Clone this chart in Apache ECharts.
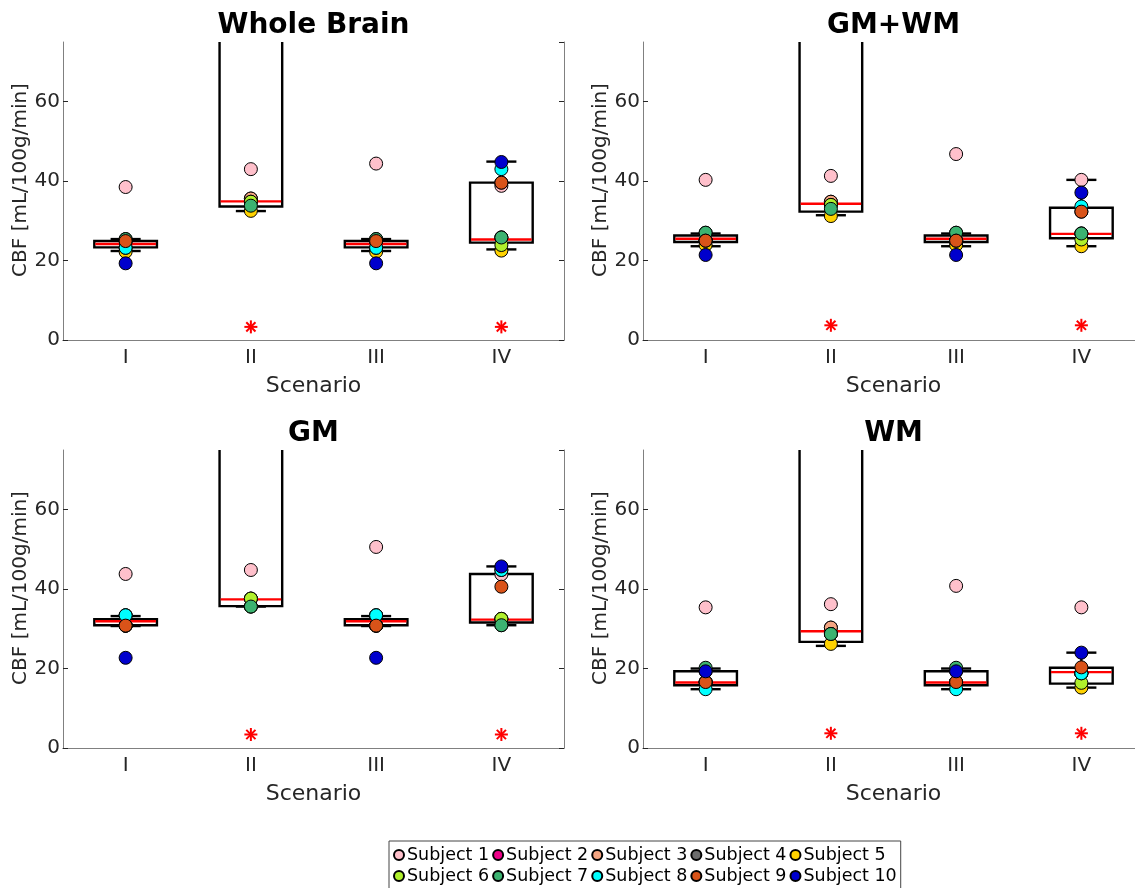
<!DOCTYPE html>
<html>
<head>
<meta charset="utf-8">
<script src="https://cdn.jsdelivr.net/npm/echarts@6/dist/echarts.min.js"></script>
<style>
  html, body { margin: 0; padding: 0; background: #fff; }
  #main { width: 1135px; height: 888px; }
</style>
</head>
<body>
<div id="main"></div>
<script>
var scenarios = ['I', 'II', 'III', 'IV'];
var panelTitles = ['Whole Brain', 'GM+WM', 'GM', 'WM'];
var subjectNames = ['Subject 1', 'Subject 2', 'Subject 3', 'Subject 4', 'Subject 5',
    'Subject 6', 'Subject 7', 'Subject 8', 'Subject 9', 'Subject 10'];
var subjectColors = ['#ffc0cb', '#ee0088', '#f4a582', '#6b6b6b', '#ffd200',
    '#b0f02c', '#3cb371', '#00ffff', '#d95319', '#0000cd'];

// CBF per scenario (rows I..IV), one value per subject (1..10); null = no point
var cbfWholeBrain = [
    [38.5, 24.9, 24.9, 25.4, 22.2, 23.2, 25.4, 23.2, 24.9, 19.3],
    [43.0, 35.6, 35.6, 34.8, 32.5, 34.8, 33.8, null, null, null],
    [44.4, 24.9, 24.9, 25.4, 22.2, 23.2, 25.4, 23.2, 24.9, 19.3],
    [38.8, 39.6, 25.8, 25.8, 22.5, 23.9, 25.8, 43.0, 39.6, 44.8]
];
var cbfGmWm = [
    [40.3, 25.0, 25.0, 27.0, 23.9, 25.0, 27.0, 25.0, 25.0, 21.4],
    [41.3, 34.8, 34.8, 34.0, 31.2, 34.0, 33.0, null, null, null],
    [46.8, 25.0, 25.0, 27.0, 23.9, 25.0, 27.0, 25.0, 25.0, 21.4],
    [40.3, 32.3, 26.8, 26.8, 23.6, 25.3, 26.8, 33.6, 32.3, 37.1]
];
var cbfGm = [
    [43.8, 30.8, 30.8, 33.4, 30.8, 33.4, 30.8, 33.4, 30.8, 22.7],
    [44.8, 37.6, 37.6, 35.6, 35.6, 37.6, 35.6, null, null, null],
    [50.6, 30.8, 30.8, 33.4, 30.8, 33.4, 30.8, 33.4, 30.8, 22.7],
    [43.7, 44.8, 32.5, 30.9, 32.5, 32.5, 30.9, 44.8, 40.6, 45.7]
];
var cbfWm = [
    [35.4, 16.6, 16.6, 19.3, 16.6, 16.6, 20.2, 14.8, 16.6, 19.3],
    [36.2, 30.3, 30.3, 28.7, 26.2, 28.7, 28.7, null, null, null],
    [40.8, 16.6, 16.6, 19.3, 16.6, 16.6, 20.2, 14.8, 16.6, 19.3],
    [35.4, 18.8, 18.8, 18.8, 15.2, 16.4, 18.8, 18.8, 20.3, 24.0]
];

// box statistics per scenario: [lower whisker, q1, median, q3, upper whisker]
var boxWholeBrain = [[22.4, 23.3, 24.15, 24.9, 25.4], [32.45, 33.6, 34.9, 110, 140],
    [22.4, 23.3, 24.15, 24.9, 25.4], [22.8, 24.5, 25.3, 39.6, 44.9]];
var boxGmWm = [[23.6, 24.65, 25.5, 26.3, 26.8], [31.4, 32.3, 34.3, 110, 140],
    [23.6, 24.65, 25.5, 26.3, 26.8], [23.6, 25.6, 26.7, 33.3, 40.3]];
var boxGm = [[30.7, 30.9, 31.9, 32.4, 33.2], [35.6, 35.7, 37.4, 110, 140],
    [30.7, 30.9, 31.9, 32.4, 33.2], [30.9, 31.6, 32.3, 43.8, 45.7]];
var boxWm = [[14.8, 15.8, 16.5, 19.3, 20.0], [25.7, 26.7, 29.4, 110, 140],
    [14.8, 15.8, 16.5, 19.3, 20.0], [15.2, 16.2, 19.1, 20.2, 24.0]];

// outliers: [scenario index, value]
var outWholeBrain = [[1, 3.3], [3, 3.3]];
var outGmWm = [[1, 3.7], [3, 3.7]];
var outGm = [[1, 3.4], [3, 3.4]];
var outWm = [[1, 3.7], [3, 3.7]];

var yTicks = [0, 20, 40, 60];

var panelCbf = [cbfWholeBrain, cbfGmWm, cbfGm, cbfWm];
var panelBox = [boxWholeBrain, boxGmWm, boxGm, boxWm];
var panelOut = [outWholeBrain, outGmWm, outGm, outWm];

var gridLeft = [63, 643, 63, 643];
var gridTop = [42, 42, 450, 450];
var txt = '#262626';
var axisGray = '#808080';

function renderBox(params, api) {
    var x = api.value(0);
    var lo = api.coord([x, api.value(1)]);
    var q1 = api.coord([x, api.value(2)]);
    var md = api.coord([x, api.value(3)]);
    var q3 = api.coord([x, api.value(4)]);
    var hi = api.coord([x, api.value(5)]);
    var band = api.size([1, 0])[0];
    var bw = band * 0.5, cw = band * 0.24;
    var cx = lo[0];
    var black = {stroke: '#000', lineWidth: 2.4, fill: null};
    return {
        type: 'group',
        children: [
            {type: 'line', shape: {x1: cx, y1: q3[1], x2: cx, y2: hi[1]}, style: black},
            {type: 'line', shape: {x1: cx, y1: lo[1], x2: cx, y2: q1[1]}, style: black},
            {type: 'line', shape: {x1: cx - cw / 2, y1: hi[1], x2: cx + cw / 2, y2: hi[1]}, style: black},
            {type: 'line', shape: {x1: cx - cw / 2, y1: lo[1], x2: cx + cw / 2, y2: lo[1]}, style: black},
            {type: 'rect', shape: {x: cx - bw / 2, y: q3[1], width: bw, height: q1[1] - q3[1]},
                style: {stroke: '#000', lineWidth: 2.4, fill: 'none'}},
            {type: 'line', shape: {x1: cx - bw / 2 + 1, y1: md[1], x2: cx + bw / 2 - 1, y2: md[1]},
                style: {stroke: '#ff0000', lineWidth: 2.4}}
        ]
    };
}

// red asterisk outlier marker, drawn at the data point
function renderStar(params, api) {
    var c = api.coord([api.value(0), api.value(1)]);
    var r = 6.5, d = r * 0.707;
    var st = {stroke: '#ff0000', lineWidth: 2, fill: null};
    return {
        type: 'group',
        children: [
            {type: 'line', shape: {x1: c[0], y1: c[1] - r, x2: c[0], y2: c[1] + r}, style: st},
            {type: 'line', shape: {x1: c[0] - r, y1: c[1], x2: c[0] + r, y2: c[1]}, style: st},
            {type: 'line', shape: {x1: c[0] - d, y1: c[1] - d, x2: c[0] + d, y2: c[1] + d}, style: st},
            {type: 'line', shape: {x1: c[0] - d, y1: c[1] + d, x2: c[0] + d, y2: c[1] - d}, style: st}
        ]
    };
}

var grids = [], xAxes = [], yAxes = [], titles = [], series = [];
for (var p = 0; p < 4; p++) {
    grids.push({left: gridLeft[p], top: gridTop[p], width: 501, height: 298,
        outerBoundsMode: 'none', containLabel: false});
    titles.push({
        text: panelTitles[p],
        left: gridLeft[p] + 250.5,
        top: gridTop[p] - 30,
        textAlign: 'center',
        padding: 0,
        textStyle: {fontSize: 28, fontWeight: 'bold', color: '#000', fontFamily: 'DejaVu Sans'}
    });
    xAxes.push({
        type: 'category', gridIndex: p, data: scenarios, position: 'bottom',
        name: 'Scenario', nameLocation: 'middle', nameGap: 35,
        nameTextStyle: {fontSize: 22, color: txt},
        axisLine: {lineStyle: {color: axisGray, width: 1}},
        axisTick: {alignWithLabel: true, inside: true, length: 5, lineStyle: {color: txt}},
        axisLabel: {fontSize: 20, color: txt, margin: 8},
        splitLine: {show: false}
    });
    xAxes.push({
        type: 'category', gridIndex: p, data: scenarios, position: 'top',
        axisLine: {lineStyle: {color: axisGray, width: 1}},
        axisTick: {alignWithLabel: true, inside: true, length: 5, lineStyle: {color: txt}},
        axisLabel: {show: false},
        splitLine: {show: false}
    });
    yAxes.push({
        type: 'value', gridIndex: p, min: 0, max: 75, interval: 20, position: 'left',
        name: 'CBF [mL/100g/min]', nameLocation: 'middle', nameGap: 24,
        nameTextStyle: {fontSize: 20, color: txt, padding: [0, 0, 0, 22]},
        axisLine: {show: true, lineStyle: {color: axisGray, width: 1}},
        axisTick: {show: true, inside: true, length: 5, lineStyle: {color: txt}},
        axisLabel: {fontSize: 20, color: txt, margin: 3, showMaxLabel: false,
            formatter: function (v) { return yTicks.indexOf(v) >= 0 ? String(v) : ''; }},
        splitLine: {show: false}
    });
    yAxes.push({
        type: 'value', gridIndex: p, min: 0, max: 75, interval: 20, position: 'right',
        axisLine: {show: true, lineStyle: {color: axisGray, width: 1}},
        axisTick: {show: true, inside: true, length: 5, lineStyle: {color: txt}},
        axisLabel: {show: false},
        splitLine: {show: false}
    });

    var boxData = panelBox[p].map(function (b, i) { return [i].concat(b); });
    series.push({
        type: 'custom', xAxisIndex: 2 * p, yAxisIndex: 2 * p, clip: true,
        renderItem: renderBox, data: boxData, silent: true,
        encode: {x: 0, y: [1, 2, 3, 4, 5]}
    });
    series.push({
        type: 'custom', xAxisIndex: 2 * p, yAxisIndex: 2 * p,
        renderItem: renderStar, data: panelOut[p], silent: true,
        encode: {x: 0, y: 1}
    });
    for (var s = 0; s < subjectNames.length; s++) {
        var pts = [];
        for (var k = 0; k < scenarios.length; k++) {
            var v = panelCbf[p][k][s];
            if (v !== null) pts.push([k, v]);
        }
        series.push({
            name: subjectNames[s], type: 'scatter',
            xAxisIndex: 2 * p, yAxisIndex: 2 * p,
            symbol: 'circle', symbolSize: 13,
            itemStyle: {color: subjectColors[s], borderColor: '#000', borderWidth: 1, opacity: 1},
            data: pts
        });
    }
}

var option = {
    backgroundColor: '#fff',
    animation: false,
    textStyle: {fontFamily: 'DejaVu Sans'},
    title: titles,
    grid: grids,
    xAxis: xAxes,
    yAxis: yAxes,
    legend: {
        data: subjectNames,
        left: 389, top: 841, width: 512,
        padding: [5, 4, 5, 4],
        itemWidth: 10, itemHeight: 10, itemGap: 3,
        icon: 'circle',
        borderColor: '#444', borderWidth: 1, backgroundColor: '#fff',
        textStyle: {fontSize: 17.5, color: '#000', padding: [0, 0, 0, -2]}
    },
    series: series
};

var myChart = echarts.init(document.getElementById('main'));
myChart.setOption(option);
</script>
</body>
</html>
